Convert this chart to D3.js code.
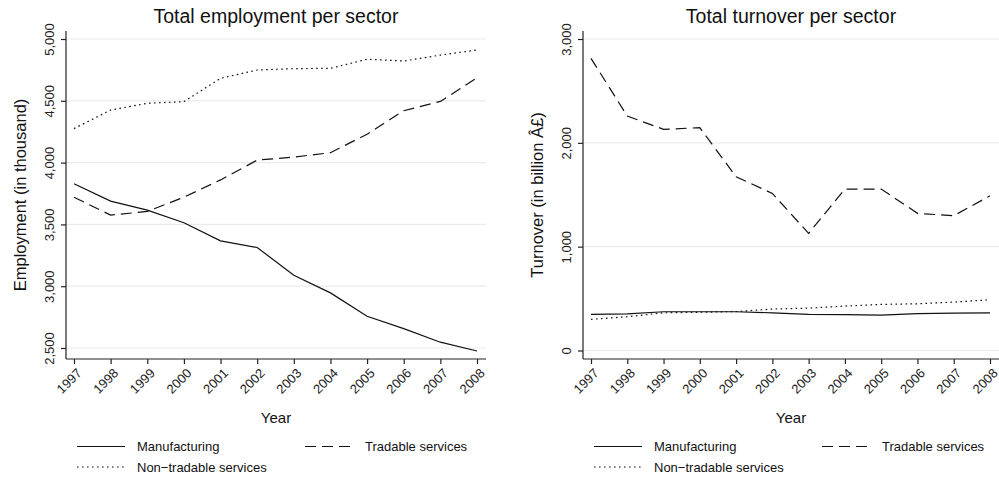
<!DOCTYPE html>
<html>
<head>
<meta charset="utf-8">
<script src="https://cdn.jsdelivr.net/npm/d3@7"></script>
<style>
  body { margin: 0; background: #fff; }
  svg { display: block; font-family: "Liberation Sans", Arial, Helvetica, sans-serif; }
</style>
</head>
<body>
<svg id="chart" width="999" height="479"></svg>
<script>
// Years on the x axis
const years = [1997, 1998, 1999, 2000, 2001, 2002, 2003, 2004, 2005, 2006, 2007, 2008];

// Employment (thousand)
const empManufacturing = [3829, 3688, 3615, 3513, 3367, 3313, 3089, 2946, 2757, 2657, 2547, 2476];
const empTradable      = [3720, 3575, 3605, 3720, 3860, 4020, 4045, 4080, 4230, 4420, 4495, 4687];
const empNonTradable   = [4275, 4425, 4480, 4493, 4682, 4749, 4760, 4763, 4836, 4822, 4870, 4911];

// Turnover (billion)
const turnManufacturing = [348, 352, 373, 373, 373, 363, 348, 345, 340, 355, 360, 363];
const turnTradable      = [2814, 2258, 2130, 2146, 1673, 1513, 1128, 1555, 1555, 1321, 1298, 1490];
const turnNonTradable   = [300, 325, 363, 368, 375, 399, 408, 428, 444, 450, 466, 488];

const empTicks  = [2500, 3000, 3500, 4000, 4500, 5000];
const turnTicks = [0, 1000, 2000, 3000];

const seriesNames = ["Manufacturing", "Tradable services", "Non\u2212tradable services"];
const dashes = [null, "11,6", "1.6,3.4"];

const svg = d3.select("#chart");
const fmt = d3.format(",");

function panel(cfg) {
  const g = svg.append("g");
  const x = d3.scaleLinear().domain([1997, 2008]).range([cfg.x0 + 8, cfg.x1 - 9]);
  const y = d3.scaleLinear().domain(cfg.domain).range(cfg.yRange);
  const plotTop = 31, plotBottom = 359;

  // horizontal grid
  g.append("g").selectAll("line").data(cfg.ticks).join("line")
    .attr("x1", cfg.x0).attr("x2", cfg.x1)
    .attr("y1", d => y(d)).attr("y2", d => y(d))
    .attr("stroke", "#ebebeb").attr("stroke-width", 1.2);

  // y axis
  const yAxis = d3.axisLeft(y).tickValues(cfg.ticks).tickFormat(fmt).tickSize(5).tickPadding(0);
  const ya = g.append("g").attr("transform", `translate(${cfg.x0},0)`).call(yAxis);
  ya.select(".domain").remove();
  ya.append("line").attr("x1", 0).attr("x2", 0).attr("y1", plotTop).attr("y2", plotBottom)
    .attr("stroke", "#222").attr("stroke-width", 1.2);
  ya.selectAll(".tick line").attr("stroke", "#222").attr("stroke-width", 1.2);
  ya.selectAll(".tick text")
    .attr("font-size", 13).attr("fill", "#222")
    .attr("text-anchor", "middle")
    .attr("x", 0).attr("y", 0).attr("dy", 0)
    .attr("transform", "translate(-12,0) rotate(-90)");

  // x axis
  const xAxis = d3.axisBottom(x).tickValues(years).tickFormat(d3.format("d")).tickSize(5).tickPadding(0);
  const xa = g.append("g").attr("transform", `translate(0,${plotBottom})`).call(xAxis);
  xa.select(".domain").remove();
  xa.append("line").attr("x1", cfg.x0).attr("x2", cfg.x1).attr("y1", 0).attr("y2", 0)
    .attr("stroke", "#222").attr("stroke-width", 1.2);
  xa.selectAll(".tick line").attr("stroke", "#222").attr("stroke-width", 1.2);
  xa.selectAll(".tick text")
    .attr("font-size", 13).attr("fill", "#222")
    .attr("text-anchor", "end")
    .attr("y", 0).attr("dy", 0)
    .attr("transform", "translate(8,15) rotate(-45)");

  // series lines
  const line = d3.line().x((d, i) => x(years[i])).y(d => y(d));
  cfg.series.forEach((s, k) => {
    g.append("path").datum(s)
      .attr("d", line)
      .attr("fill", "none").attr("stroke", "#111").attr("stroke-width", 1.2)
      .attr("stroke-dasharray", dashes[k]);
  });

  const cx = (cfg.x0 + cfg.x1) / 2;
  // title
  g.append("text").attr("x", cx).attr("y", 22.5).attr("text-anchor", "middle")
    .attr("font-size", 19.5).attr("fill", "#111").text(cfg.title);
  // x title
  g.append("text").attr("x", cx).attr("y", 423).attr("text-anchor", "middle")
    .attr("font-size", 15).attr("fill", "#111").text("Year");
  // y title
  g.append("text").attr("transform", `translate(${cfg.x0 - 40},${(plotTop + plotBottom) / 2}) rotate(-90)`)
    .attr("text-anchor", "middle").attr("font-size", 16.5).attr("fill", "#111").text(cfg.yTitle);

  // legend
  const lg = g.append("g");
  const items = [
    { k: 0, lx: cfg.x0 + 11, ly: 446.5 },
    { k: 1, lx: cfg.x0 + 239, ly: 446.5 },
    { k: 2, lx: cfg.x0 + 11, ly: 467 }
  ];
  items.forEach(it => {
    lg.append("line").attr("x1", it.lx).attr("x2", it.lx + 48).attr("y1", it.ly).attr("y2", it.ly)
      .attr("stroke", "#111").attr("stroke-width", 1.2).attr("stroke-dasharray", dashes[it.k]);
    lg.append("text").attr("x", it.lx + 60).attr("y", it.ly + 4.8).attr("font-size", 13)
      .attr("fill", "#111").text(seriesNames[it.k]);
  });
}

panel({
  x0: 66, x1: 486, domain: [2500, 5000], yRange: [348, 39], ticks: empTicks,
  series: [empManufacturing, empTradable, empNonTradable],
  title: "Total employment per sector", yTitle: "Employment (in thousand)"
});
panel({
  x0: 583, x1: 999, domain: [0, 3000], yRange: [350.5, 39], ticks: turnTicks,
  series: [turnManufacturing, turnTradable, turnNonTradable],
  title: "Total turnover per sector", yTitle: "Turnover (in billion \u00C2\u00A3)"
});
</script>
</body>
</html>
